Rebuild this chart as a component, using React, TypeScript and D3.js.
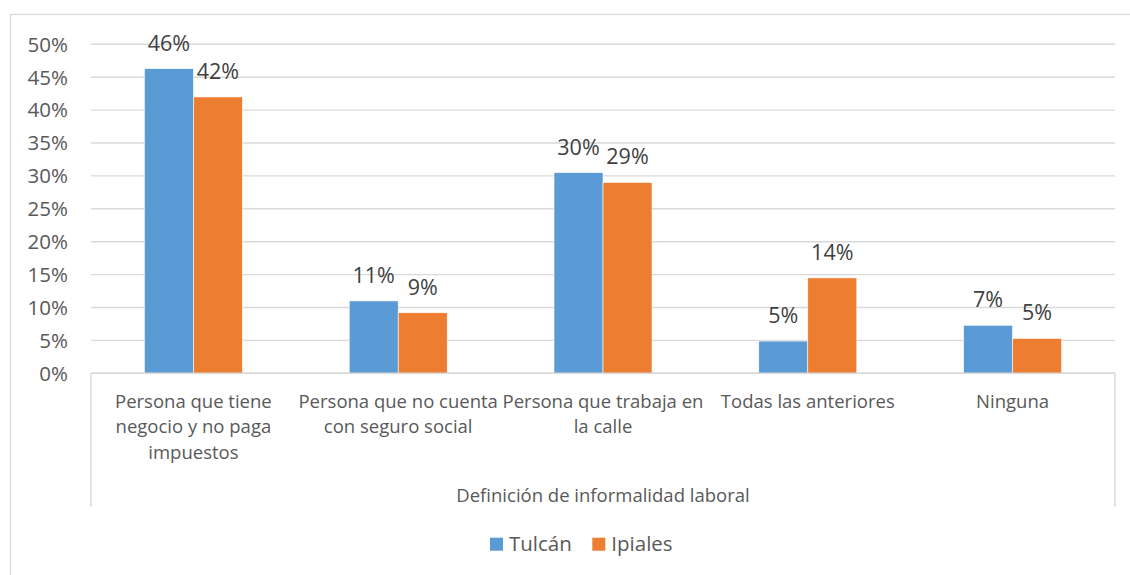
import React, { useEffect, useRef } from 'react';
import * as d3 from 'd3';

// categories (wrapped as in the original), series, ticks
const categories = [
  ['Persona que tiene', 'negocio y no paga', 'impuestos'],
  ['Persona que no cuenta', 'con seguro social'],
  ['Persona que trabaja en', 'la calle'],
  ['Todas las anteriores'],
  ['Ninguna'],
];
const seriesNames = ['Tulcán', 'Ipiales'];
const tulcan = [0.463, 0.11, 0.305, 0.049, 0.073];
const ipiales = [0.42, 0.092, 0.29, 0.145, 0.053];
const dataLabels = [
  ['46%', '11%', '30%', '5%', '7%'],
  ['42%', '9%', '29%', '14%', '5%'],
];
const yTicks = [0, 0.05, 0.1, 0.15, 0.2, 0.25, 0.3, 0.35, 0.4, 0.45, 0.5];
const axisTitle = 'Definición de informalidad laboral';

const colors = ['#5B9BD5', '#ED7D31'];
const W = 1130;
const H = 575;
const FONT = '"Open Sans", "Noto Sans", sans-serif';

const App = () => {
  const svgRef = useRef<SVGSVGElement>(null);

  useEffect(() => {
    const svg = d3.select(svgRef.current);
    svg.selectAll('*').remove();

    const left = 91, right = 1115, top = 44.3, bottom = 373.3;
    const keys = categories.map((c) => c.join(' '));
    const values = [tulcan, ipiales];

    const x = d3.scaleBand().domain(keys).range([left, right]).padding(0);
    const y = d3.scaleLinear().domain([0, 0.5]).range([bottom, top]);
    const barW = 49;

    // outer chart border
    svg.append('rect')
      .attr('x', 10.5).attr('y', 14.5)
      .attr('width', W).attr('height', H)
      .attr('fill', '#fff')
      .attr('stroke', '#d9d9d9').attr('stroke-width', 1.3);

    // gridlines
    svg.append('g')
      .selectAll('line')
      .data(yTicks)
      .join('line')
      .attr('x1', left).attr('x2', right)
      .attr('y1', (d) => y(d)).attr('y2', (d) => y(d))
      .attr('stroke', '#d9d9d9').attr('stroke-width', 1.4);

    // y tick labels
    svg.append('g')
      .selectAll('text')
      .data(yTicks)
      .join('text')
      .attr('x', 68)
      .attr('y', (d) => y(d))
      .attr('dy', '0.36em')
      .attr('text-anchor', 'end')
      .attr('font-family', FONT)
      .attr('font-size', 20.5)
      .attr('fill', '#595959')
      .text((d) => d3.format('.0%')(d));

    // category box edges
    [left, right].forEach((xx) => {
      svg.append('line')
        .attr('x1', xx).attr('x2', xx)
        .attr('y1', bottom).attr('y2', 507)
        .attr('stroke', '#d9d9d9').attr('stroke-width', 1.4);
    });

    // bars
    seriesNames.forEach((name, si) => {
      const g = svg.append('g');
      g.selectAll('rect')
        .data(values[si])
        .join('rect')
        .attr('x', (d, i) => (x(keys[i]) as number) + x.bandwidth() / 2 - barW + si * barW)
        .attr('y', (d) => y(d))
        .attr('width', barW)
        .attr('height', (d) => bottom - y(d))
        .attr('fill', colors[si])
        .attr('stroke', '#fff').attr('stroke-width', 0.6);

      g.selectAll('text')
        .data(values[si])
        .join('text')
        .attr('x', (d, i) => (x(keys[i]) as number) + x.bandwidth() / 2 - barW / 2 + si * barW)
        .attr('y', (d) => y(d) - 18)
        .attr('text-anchor', 'middle')
        .attr('font-family', FONT)
        .attr('font-size', 21.5)
        .attr('fill', '#404040')
        .text((d, i) => dataLabels[si][i]);
    });

    // x axis line
    svg.append('line')
      .attr('x1', left).attr('x2', right)
      .attr('y1', bottom).attr('y2', bottom)
      .attr('stroke', '#d9d9d9').attr('stroke-width', 1.4);

    // category labels
    categories.forEach((lines, i) => {
      const t = svg.append('text')
        .attr('text-anchor', 'middle')
        .attr('font-family', FONT)
        .attr('font-size', 18.5)
        .attr('fill', '#595959');
      lines.forEach((ln, li) => {
        t.append('tspan')
          .attr('x', (x(keys[i]) as number) + x.bandwidth() / 2)
          .attr('y', 407.5 + li * 25.7)
          .text(ln);
      });
    });

    // axis title
    svg.append('text')
      .attr('x', (left + right) / 2)
      .attr('y', 501.5)
      .attr('text-anchor', 'middle')
      .attr('font-family', FONT)
      .attr('font-size', 18.5)
      .attr('fill', '#595959')
      .text(axisTitle);

    // legend
    const legendX = [490, 592.3];
    seriesNames.forEach((name, si) => {
      svg.append('rect')
        .attr('x', legendX[si]).attr('y', 537.7)
        .attr('width', 13).attr('height', 13)
        .attr('fill', colors[si]);
      svg.append('text')
        .attr('x', legendX[si] + 19)
        .attr('y', 551)
        .attr('font-family', FONT)
        .attr('font-size', 20.5)
        .attr('fill', '#595959')
        .text(name);
    });
  }, []);

  return (
    <div style={{ position: 'absolute', left: 0, top: 0, width: W, height: H, overflow: 'hidden', background: '#fff' }}>
      <svg ref={svgRef} width={W} height={H}></svg>
    </div>
  );
};

export default App;
